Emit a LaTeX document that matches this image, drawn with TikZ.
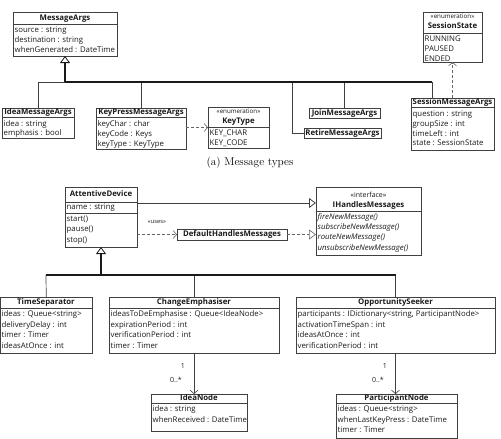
\documentclass[tikz,border=0pt]{standalone}
\usepackage{fontspec}
\setsansfont{Open Sans}
\usetikzlibrary{arrows.meta}

\definecolor{edge}{HTML}{404040}
\definecolor{ink}{HTML}{1A1A1A}

\tikzset{
  classbox/.style={draw=edge, line width=0.7pt, inner sep=0pt, outer sep=0pt, fill=white},
  sepline/.style={draw=edge, line width=0.7pt},
  txt/.style={inner sep=0pt, text=ink, text height=5.8pt, text depth=1.7pt,
              font=\sffamily\fontsize{7.8}{9}\selectfont},
  attr/.style={txt, anchor=west},
  ittl/.style={attr, font=\sffamily\itshape\fontsize{7.8}{9}\selectfont},
  ttl/.style={txt, font=\sffamily\bfseries\fontsize{7.8}{9}\selectfont},
  stereo/.style={txt, font=\sffamily\fontsize{6.2}{7}\selectfont},
  mult/.style={txt, anchor=east, font=\sffamily\fontsize{7}{8}\selectfont},
  branch/.style={draw=edge, line width=0.7pt},
  trunk/.style={draw=ink, line width=1.15pt},
  gentip/.style={-{Triangle[open, length=7pt, width=10pt, line width=0.8pt]}},
  depend/.style={draw=edge!80, line width=0.6pt, dash pattern=on 3pt off 2pt},
  opentip/.style={-{Straight Barb[length=3.5pt, width=8pt, line width=0.6pt]}},
}

% class box from its corners (x1,y1) to (x2,y2)
\newcommand\umlbox[5]{%
  \node[classbox, anchor=north west, minimum width={#4-#2}, minimum height={#5-#3}] (#1) at (#2,#3) {};}
% horizontal compartment separator inside a box
\newcommand\umlsep[2]{\draw[sepline] (#1.west |- 0,#2) -- (#1.east |- 0,#2);}

\begin{document}
\begin{tikzpicture}[x=1pt, y=-1pt]
\useasboundingbox (0,0) rectangle (501,439);

% ---------------- message types ----------------
\umlbox{ma}{13}{12}{117}{56}
\umlsep{ma}{24}
\node[ttl] (ma-t) at (65,18) {MessageArgs};
\node[attr] (ma-1) at (14.5,30) {source : string};
\node[attr] (ma-2) at (14.5,40) {destination : string};
\node[attr] (ma-3) at (14.5,50) {whenGenerated : DateTime};

\umlbox{ima}{2}{108}{74}{138}
\umlsep{ima}{117}
\node[ttl] (ima-t) at (38,112.5) {IdeaMessageArgs};
\node[attr] (ima-1) at (3.5,124) {idea : string};
\node[attr] (ima-2) at (3.5,133) {emphasis : bool};

\umlbox{kpm}{96}{108}{186}{149}
\umlsep{kpm}{117}
\node[ttl] (kpm-t) at (141,112.5) {KeyPressMessageArgs};
\node[attr] (kpm-1) at (97.5,124) {keyChar : char};
\node[attr] (kpm-2) at (97.5,134) {keyCode : Keys};
\node[attr] (kpm-3) at (97.5,144) {keyType : KeyType};

\umlbox{kt}{208}{107}{269}{148}
\umlsep{kt}{127}
\node[stereo] (kt-s) at (238.5,111.5) {«enumeration»};
\node[ttl] (kt-t) at (238.5,121) {KeyType};
\node[attr] (kt-1) at (209.5,133) {KEY\_CHAR};
\node[attr] (kt-2) at (209.5,143) {KEY\_CODE};

\umlbox{jma}{309}{108}{380}{118}
\node[ttl] (jma-t) at (344.5,113) {JoinMessageArgs};

\umlbox{rma}{304}{128}{381}{138}
\node[ttl] (rma-t) at (342.5,133) {RetireMessageArgs};

\umlbox{sma}{411}{98}{494}{150}
\umlsep{sma}{107}
\node[ttl] (sma-t) at (452.5,102.5) {SessionMessageArgs};
\node[attr] (sma-1) at (412.5,114) {question : string};
\node[attr] (sma-2) at (412.5,124) {groupSize : int};
\node[attr] (sma-3) at (412.5,134) {timeLeft : int};
\node[attr] (sma-4) at (412.5,143.5) {state : SessionState};

\umlbox{ss}{423}{12}{482}{62}
\umlsep{ss}{33}
\node[stereo] (ss-s) at (452.5,16.5) {«enumeration»};
\node[ttl] (ss-t) at (452.5,26.5) {SessionState};
\node[attr] (ss-1) at (424.5,39) {RUNNING};
\node[attr] (ss-2) at (424.5,49) {PAUSED};
\node[attr] (ss-3) at (424.5,59) {ENDED};

% generalisation tree of MessageArgs
\coordinate (majoin) at (65,82);
\coordinate (rj) at (292,82);
\coordinate (sj) at (432,82);
\draw[branch] (ima.north) |- (majoin);
\draw[branch] (kpm.north) |- (majoin);
\draw[branch] (jma.north) |- (majoin);
\draw[branch] (rma.west) -| (rj);
\draw[branch] (sma.north -| sj) -- (sj);
\draw[trunk] (sj) -- (majoin);
\draw[trunk, gentip] (majoin) -- (ma.south);

% dependencies on the enumerations
\draw[depend, opentip] (kpm.east |- kt.west) -- (kt.west);
\draw[depend, opentip] (sma.north) -- (ss.south);

\node[font=\fontsize{11.3}{13}\selectfont, inner sep=0pt] (capa) at (250,163) {(a) Message types};

% ---------------- devices ----------------
\umlbox{ad}{65}{187}{137}{247}
\umlsep{ad}{202}
\umlsep{ad}{213}
\node[ttl] (ad-t) at (101,194.5) {AttentiveDevice};
\node[attr] (ad-1) at (66.5,207.5) {name : string};
\node[attr] (ad-2) at (66.5,219) {start()};
\node[attr] (ad-3) at (66.5,229) {pause()};
\node[attr] (ad-4) at (66.5,240) {stop()};

\umlbox{ihm}{316}{187}{421}{255}
\umlsep{ihm}{211}
\node[stereo, font=\sffamily\fontsize{7}{8}\selectfont] (ihm-s) at (368.5,195) {«interface»};
\node[ttl] (ihm-t) at (368.5,205) {IHandlesMessages};
\node[ittl] (ihm-1) at (317.5,217) {fireNewMessage()};
\node[ittl] (ihm-2) at (317.5,227) {subscribeNewMessage()};
\node[ittl] (ihm-3) at (317.5,237) {routeNewMessage()};
\node[ittl] (ihm-4) at (317.5,248) {unsubscribeNewMessage()};

\umlbox{dhm}{177}{229}{287}{240}
\node[ttl] (dhm-t) at (232,234.5) {DefaultHandlesMessages};

\draw[branch, gentip] (ad.east |- 0,203) -- (ihm.west |- 0,203);
\draw[depend, opentip] (ad.east |- dhm.west) -- (dhm.west);
\node[stereo, font=\sffamily\fontsize{5.8}{7}\selectfont] (uses) at (157,221) {«uses»};
\draw[depend, -{Triangle[open, length=7pt, width=10pt, line width=0.6pt]}] (dhm.east) -- (ihm.west |- dhm.east);

\umlbox{ts}{0.5}{297}{92}{353}
\umlsep{ts}{308}
\node[ttl] (ts-t) at (46,302.5) {TimeSeparator};
\node[attr] (ts-1) at (1.5,314) {ideas : Queue<string>};
\node[attr] (ts-2) at (1.5,325) {deliveryDelay : int};
\node[attr] (ts-3) at (1.5,335) {timer : Timer};
\node[attr] (ts-4) at (1.5,346) {ideasAtOnce : int};

\umlbox{ce}{109}{297}{279}{353}
\umlsep{ce}{308}
\node[ttl] (ce-t) at (194,302.5) {ChangeEmphasiser};
\node[attr] (ce-1) at (110.5,314) {ideasToDeEmphasise : Queue<IdeaNode>};
\node[attr] (ce-2) at (110.5,325) {expirationPeriod : int};
\node[attr] (ce-3) at (110.5,335) {verificationPeriod : int};
\node[attr] (ce-4) at (110.5,346) {timer : Timer};

\umlbox{os}{296}{297}{495}{353}
\umlsep{os}{308}
\node[ttl] (os-t) at (395.5,302.5) {OpportunitySeeker};
\node[attr] (os-1) at (297.5,314) {participants : IDictionary<string, ParticipantNode>};
\node[attr] (os-2) at (297.5,325) {activationTimeSpan : int};
\node[attr] (os-3) at (297.5,335) {ideasAtOnce : int};
\node[attr] (os-4) at (297.5,346) {verificationPeriod : int};

% generalisation tree of AttentiveDevice
\coordinate (adjoin) at (101,275);
\coordinate (tsj) at (46,275);
\coordinate (osj) at (395.5,275);
\draw[branch] (ts.north) -- (tsj);
\draw[branch] (ce.north) |- (adjoin);
\draw[branch] (os.north) -- (osj);
\draw[trunk] (tsj) -- (osj);
\draw[trunk, gentip] (adjoin) -- (ad.south);

\umlbox{in}{151}{394}{247}{431}
\umlsep{in}{403}
\node[ttl] (in-t) at (199,398.5) {IdeaNode};
\node[attr] (in-1) at (152.5,409) {idea : string};
\node[attr] (in-2) at (152.5,420) {whenReceived : DateTime};

\umlbox{pn}{336}{394}{457}{438.6}
\umlsep{pn}{403}
\node[ttl] (pn-t) at (396.5,398.5) {ParticipantNode};
\node[attr] (pn-1) at (337.5,409) {ideas : Queue<string>};
\node[attr] (pn-2) at (337.5,420) {whenLastKeyPress : DateTime};
\node[attr] (pn-3) at (337.5,430) {timer : Timer};

% associations
\draw[branch, opentip] (ce.south) -- (ce.south |- in.north);
\node[mult] (ce-m1) at (185,366) {1};
\node[mult] (ce-m2) at (182,380) {0..*};
\draw[branch, opentip] (os.south) -- (os.south |- pn.north);
\node[mult] (os-m1) at (387,366) {1};
\node[mult] (os-m2) at (384,380) {0..*};
\end{tikzpicture}
\end{document}
